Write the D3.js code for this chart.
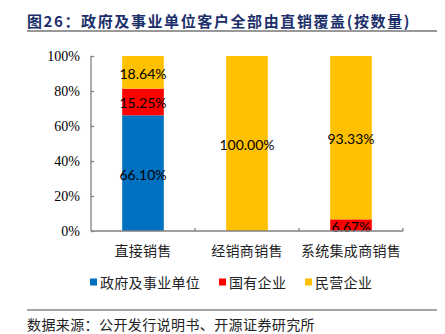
<!DOCTYPE html>
<html><head><meta charset="utf-8">
<script src="https://cdn.jsdelivr.net/npm/d3@7"></script>
<style>
html,body{margin:0;padding:0;background:#fff;}
svg{display:block;}
</style></head>
<body>
<svg id="c" width="445" height="334"></svg>
<script>
const categories = ["直接销售", "经销商销售", "系统集成商销售"];
const seriesNames = ["政府及事业单位", "国有企业", "民营企业"];
const govValues = [66.10, 0, 0];
const soeValues = [15.25, 0, 6.67];
const privateValues = [18.64, 100.00, 93.33];
const yTicks = [0, 20, 40, 60, 80, 100];
const colors = ["#0070C0", "#FF0000", "#FFC000"];
const titleText = "图26：政府及事业单位客户全部由直销覆盖(按数量)";
const sourceText = "数据来源：公开发行说明书、开源证券研究所";

const svg = d3.select("#c");
const cjk = "'Noto Sans CJK SC', sans-serif";

// title
svg.append("text").attr("x", 27).attr("y", 20)
  .attr("dominant-baseline", "central")
  .style("font-family", cjk).style("font-weight", "bold")
  .style("font-size", "15px").style("letter-spacing", "1.6px")
  .attr("fill", "#1c2f6b").text(titleText);
svg.append("line").attr("x1", 27).attr("x2", 437).attr("y1", 31).attr("y2", 31)
  .attr("stroke", "#333").attr("stroke-width", 1.2);

const x = d3.scaleBand().domain(categories).range([91, 403]).padding(0);
const y = d3.scaleLinear().domain([0, 100]).range([231, 56]);

const table = categories.map((c, i) => ({cat: c, v: [govValues[i], soeValues[i], privateValues[i]]}));
const stackData = table.map(d => ({cat: d.cat, s0: d.v[0], s1: d.v[1], s2: d.v[2]}));
const stacked = d3.stack().keys(["s0", "s1", "s2"])(stackData);

const bw = x.bandwidth() * 0.4;
stacked.forEach((layer, li) => {
  layer.forEach(seg => {
    const val = seg[1] - seg[0];
    if (val <= 0) return;
    const cx = x(seg.data.cat) + x.bandwidth() / 2;
    svg.append("rect")
      .attr("x", cx - bw / 2).attr("width", bw)
      .attr("y", y(seg[1])).attr("height", y(seg[0]) - y(seg[1]))
      .attr("fill", colors[li]);
  });
});
stacked.forEach((layer, li) => {
  layer.forEach(seg => {
    const val = seg[1] - seg[0];
    if (val <= 0) return;
    const cx = x(seg.data.cat) + x.bandwidth() / 2;
    svg.append("text")
      .attr("x", cx).attr("y", (y(seg[0]) + y(seg[1])) / 2 + 1)
      .attr("text-anchor", "middle").attr("dominant-baseline", "central")
      .style("font-family", "Lato, 'Liberation Sans', sans-serif")
      .style("font-size", "14px").attr("fill", "#000")
      .text(val.toFixed(2) + "%");
  });
});

// y axis
const yAxis = svg.append("g").attr("transform", "translate(91,0)")
  .call(d3.axisLeft(y).tickValues(yTicks).tickSize(-3).tickPadding(11).tickFormat(d => d + "%"));
yAxis.selectAll("text").style("font-family", "'Liberation Serif', serif")
  .style("font-size", "14px").attr("fill", "#000");
yAxis.selectAll("path,line").attr("stroke", "#808080").attr("stroke-width", 1.3);
yAxis.select("path").attr("d", `M0,${y(100)}V${y(0)}`);

// x axis
const xAxisG = svg.append("g").attr("transform", `translate(0,${y(0)})`);
xAxisG.append("line").attr("x1", x.range()[0]).attr("x2", x.range()[1])
  .attr("stroke", "#808080").attr("stroke-width", 1.3);
categories.forEach(c => {
  const xe = x(c) + x.bandwidth();
  xAxisG.append("line").attr("x1", xe).attr("x2", xe).attr("y1", 0).attr("y2", -3)
    .attr("stroke", "#808080").attr("stroke-width", 1.3);
  xAxisG.append("text").attr("x", x(c) + x.bandwidth() / 2).attr("y", 19)
    .attr("text-anchor", "middle").attr("dominant-baseline", "central")
    .style("font-family", cjk).style("font-size", "14px").style("letter-spacing", "0.3px")
    .attr("fill", "#222").text(c);
});

// legend
const legendX = [90, 219, 305];
seriesNames.forEach((n, i) => {
  svg.append("rect").attr("x", legendX[i]).attr("y", 278.5).attr("width", 7).attr("height", 7)
    .attr("fill", colors[i]);
  svg.append("text").attr("x", legendX[i] + 10).attr("y", 282)
    .attr("dominant-baseline", "central")
    .style("font-family", cjk).style("font-size", "14px").style("letter-spacing", "0.3px")
    .attr("fill", "#222").text(n);
});

// bottom
svg.append("line").attr("x1", 27).attr("x2", 437).attr("y1", 310).attr("y2", 310)
  .attr("stroke", "#888").attr("stroke-width", 1.3);
svg.append("text").attr("x", 27).attr("y", 324)
  .attr("dominant-baseline", "central")
  .style("font-family", cjk).style("font-size", "14px").style("letter-spacing", "0.4px")
  .attr("fill", "#222").text(sourceText);
</script>
</body></html>
